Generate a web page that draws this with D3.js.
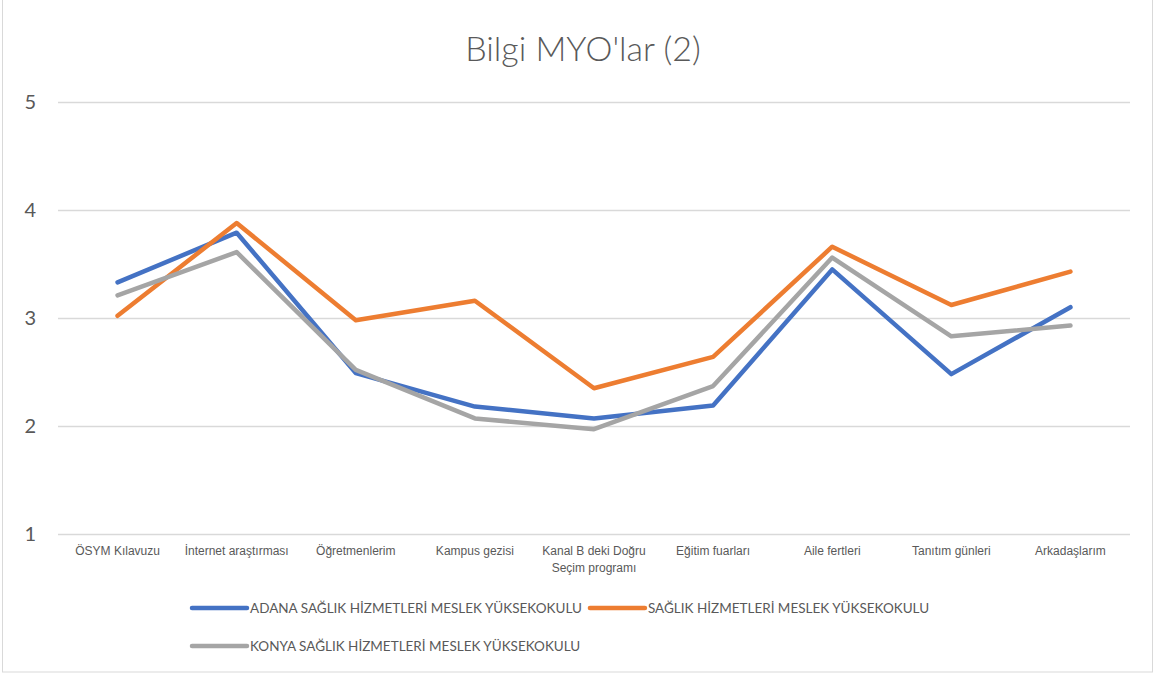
<!DOCTYPE html>
<html>
<head>
<meta charset="utf-8">
<script src="https://cdn.jsdelivr.net/npm/d3@7"></script>
<style>
  body { margin: 0; background: #fff; }
  svg { font-family: Lato, "Open Sans", sans-serif; }
</style>
</head>
<body>
<div id="chart"></div>
<script>
const categories = ["ÖSYM Kılavuzu", "İnternet araştırması", "Öğretmenlerim", "Kampus gezisi",
  "Kanal B deki Doğru Seçim programı", "Eğitim fuarları", "Aile fertleri", "Tanıtım günleri", "Arkadaşlarım"];
const seriesNames = ["ADANA SAĞLIK HİZMETLERİ MESLEK YÜKSEKOKULU", "SAĞLIK HİZMETLERİ MESLEK YÜKSEKOKULU",
  "KONYA SAĞLIK HİZMETLERİ MESLEK YÜKSEKOKULU"];
const adana = [3.33, 3.79, 2.49, 2.18, 2.07, 2.19, 3.45, 2.48, 3.10];
const saglik = [3.02, 3.88, 2.98, 3.16, 2.35, 2.64, 3.66, 3.12, 3.43];
const konya = [3.21, 3.61, 2.52, 2.07, 1.97, 2.37, 3.56, 2.83, 2.93];
const yTicks = [1, 2, 3, 4, 5];
const colors = ["#4472C4", "#ED7D31", "#A5A5A5"];

const W = 1158, H = 675;
const margin = { top: 102, right: 28, bottom: 141, left: 58 };
const width = W - margin.left - margin.right;
const height = H - margin.top - margin.bottom;

const root = d3.select("#chart").append("svg")
  .attr("width", W)
  .attr("height", H);

// chart border
root.append("rect")
  .attr("x", 2.5).attr("y", -1)
  .attr("width", 1150).attr("height", 673)
  .attr("fill", "none")
  .attr("stroke", "#d9d9d9");

root.append("text")
  .attr("x", 583).attr("y", 61)
  .attr("text-anchor", "middle")
  .attr("font-size", 34)
  .attr("font-weight", 300)
  .attr("fill", "#595959")
  .text("Bilgi MYO'lar (2)");

const svg = root.append("g")
  .attr("transform", `translate(${margin.left},${margin.top})`);

const x = d3.scaleBand()
  .domain(categories)
  .range([0, width]);

const y = d3.scaleLinear()
  .domain([1, 5])
  .range([height, 0]);

// gridlines
svg.append("g")
  .selectAll("line")
  .data(yTicks)
  .enter()
  .append("line")
  .attr("x1", 0).attr("x2", width)
  .attr("y1", d => Math.round(y(d)) + 0.5)
  .attr("y2", d => Math.round(y(d)) + 0.5)
  .attr("stroke", "#d9d9d9")
  .attr("stroke-width", 1.5);

const yAxis = svg.append("g")
  .call(d3.axisLeft(y).tickValues(yTicks).tickFormat(d3.format("d")).tickSize(0).tickPadding(22));
yAxis.select(".domain").remove();
yAxis.selectAll("text")
  .attr("font-family", "Lato, sans-serif")
  .attr("font-size", 20)
  .attr("fill", "#595959");

const xAxis = svg.append("g")
  .attr("transform", `translate(0,${height})`)
  .call(d3.axisBottom(x).tickSize(0).tickPadding(0));
xAxis.select(".domain").remove();
xAxis.selectAll("text").remove();
xAxis.selectAll(".tick")
  .append("text")
  .attr("text-anchor", "middle")
  .attr("font-size", 12)
  .attr("fill", "#595959")
  .each(function (d) {
    const t = d3.select(this);
    const lines = d.startsWith("Kanal") ? ["Kanal B deki Doğru", "Seçim programı"] : [d];
    lines.forEach((ln, i) => {
      t.append("tspan").attr("x", 0).attr("y", 21 + i * 17).text(ln);
    });
  });

const line = d3.line()
  .x((d, i) => x(categories[i]) + x.bandwidth() / 2)
  .y(d => y(d));

const allSeries = [adana, saglik, konya];
svg.append("g")
  .selectAll("path")
  .data(allSeries)
  .enter()
  .append("path")
  .attr("d", line)
  .attr("fill", "none")
  .attr("stroke", (d, i) => colors[i])
  .attr("stroke-width", 4.5)
  .attr("stroke-linejoin", "round")
  .attr("stroke-linecap", "round");

// legend
const legend = root.append("g");
let lx = 192, ly = 608;
seriesNames.forEach((name, i) => {
  const g = legend.append("g").attr("transform", `translate(${lx},${ly})`);
  g.append("line")
    .attr("x1", 0).attr("x2", 55)
    .attr("stroke", colors[i])
    .attr("stroke-width", 4.5)
    .attr("stroke-linecap", "round");
  const t = g.append("text")
    .attr("x", 58).attr("y", 5)
    .attr("font-size", 13.5)
    .attr("fill", "#595959")
    .text(name);
  const w = 58 + t.node().getComputedTextLength() + 8;
  lx += w;
  if (i === 1) { lx = 192; ly += 38; }
});
</script>
</body>
</html>
